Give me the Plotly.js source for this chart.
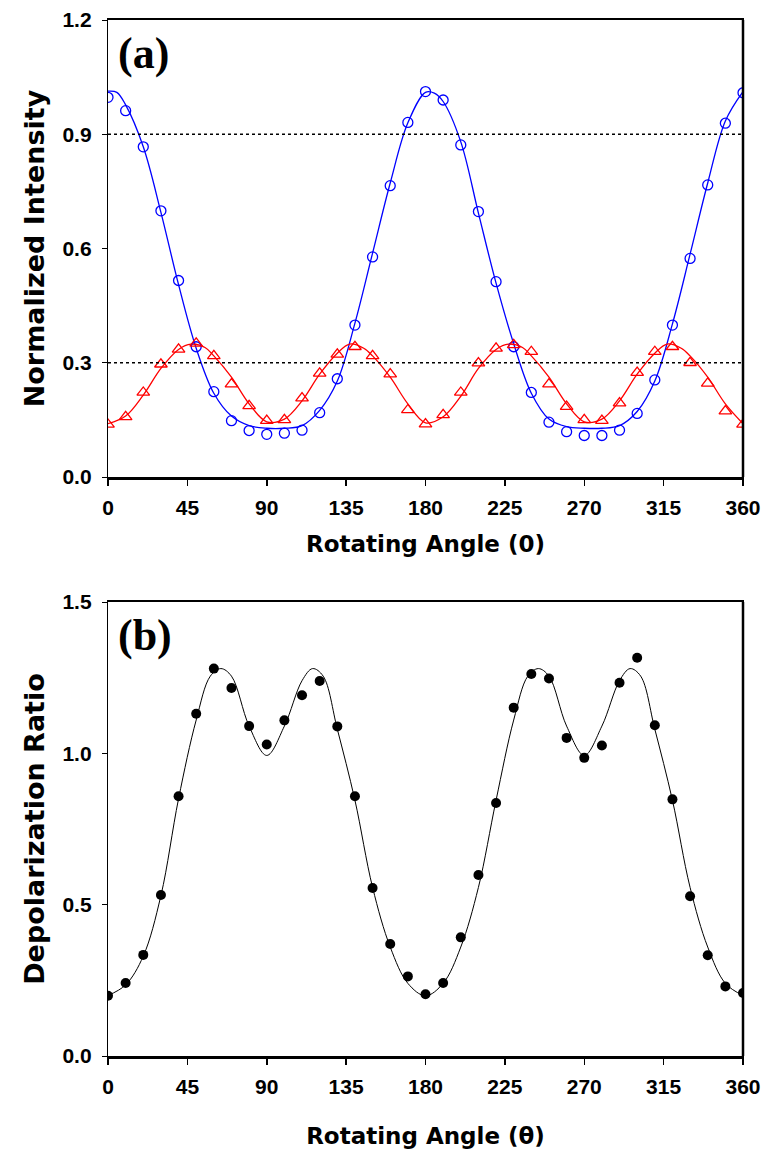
<!DOCTYPE html>
<html>
<head>
<meta charset="utf-8">
<script src="https://cdn.plot.ly/plotly-3.0.1.min.js"></script>
<style>html,body{margin:0;padding:0;background:#fff;}#chart{width:768px;height:1158px;}</style>
</head>
<body>
<div id="chart"></div>
<script>
// ---- Data ----
const angles = [0,10,20,30,40,50,60,70,80,90,100,110,120,130,140,150,160,170,180,190,200,210,220,230,240,250,260,270,280,290,300,310,320,330,340,350,360];

// Panel (a) measured points
const blueData = [0.997,0.962,0.867,0.699,0.516,0.342,0.224,0.148,0.122,0.112,0.115,0.123,0.169,0.258,0.399,0.578,0.765,0.931,1.012,0.990,0.872,0.697,0.513,0.342,0.222,0.144,0.119,0.109,0.109,0.123,0.167,0.255,0.399,0.574,0.767,0.929,1.009];
const redData  = [0.138,0.158,0.222,0.296,0.335,0.351,0.318,0.244,0.187,0.148,0.150,0.207,0.272,0.322,0.342,0.318,0.270,0.176,0.139,0.163,0.222,0.299,0.338,0.347,0.329,0.244,0.185,0.150,0.148,0.194,0.274,0.329,0.342,0.300,0.246,0.173,0.138];

// Panel (a) fitted curves
const fitAngA  = [0,5,10,20,30,40,50,60,70,80,90,100,110,120,130,140,150,160,170,180,185,190,200,210,220,230,240,250,260,270,280,290,300,310,320,330,340,350,360];
const blueFit  = [1.013,1.010,0.977,0.867,0.695,0.505,0.338,0.220,0.160,0.135,0.128,0.128,0.135,0.175,0.252,0.404,0.588,0.772,0.930,1.010,1.008,0.986,0.880,0.693,0.509,0.350,0.220,0.152,0.132,0.128,0.128,0.135,0.172,0.252,0.402,0.585,0.772,0.935,1.012];
const redFitAng = [0,10,20,30,40,47,55,60,70,80,90,100,110,120,130,137,145,150,160,170,180,190,200,210,220,227,235,240,250,260,270,280,290,300,310,317,325,330,340,350,360];
const redFit   = [0.140,0.160,0.215,0.285,0.335,0.349,0.340,0.318,0.262,0.192,0.145,0.152,0.200,0.270,0.325,0.349,0.338,0.318,0.262,0.192,0.142,0.158,0.212,0.285,0.335,0.349,0.340,0.318,0.262,0.192,0.145,0.152,0.200,0.270,0.325,0.349,0.338,0.318,0.262,0.192,0.140];

// Panel (b) measured points
const depolData = [0.199,0.241,0.334,0.532,0.858,1.131,1.280,1.216,1.090,1.029,1.109,1.192,1.239,1.089,0.858,0.555,0.370,0.263,0.204,0.241,0.392,0.598,0.836,1.151,1.262,1.247,1.051,0.985,1.026,1.233,1.316,1.093,0.848,0.528,0.333,0.230,0.208];

// Panel (b) fitted curve
const fitAngB = [0,10,20,30,40,50,58,64,70,80,90,100,110,116,122,130,140,150,160,170,180,190,200,210,220,230,238,244,250,260,270,280,290,296,302,310,320,330,340,350,360];
const depolFit = [0.200,0.235,0.330,0.530,0.850,1.110,1.255,1.280,1.255,1.090,0.993,1.090,1.240,1.280,1.255,1.080,0.845,0.557,0.360,0.240,0.199,0.240,0.360,0.557,0.845,1.110,1.255,1.280,1.255,1.090,0.993,1.090,1.240,1.280,1.255,1.080,0.845,0.557,0.360,0.240,0.200];

// Tick labels / reference lines
const xTicks = [0,45,90,135,180,225,270,315,360];
const yTicksA = [0.0,0.3,0.6,0.9,1.2];
const yTicksB = [0.0,0.5,1.0,1.5];
const refLinesA = [0.3,0.9];

// ---- Traces ----
const traces = [
  {x: fitAngA, y: blueFit, type:'scatter', mode:'lines', line:{color:'#0000ff', width:1.3, shape:'spline', smoothing:1}, xaxis:'x', yaxis:'y', hoverinfo:'skip'},
  {x: redFitAng, y: redFit, type:'scatter', mode:'lines', line:{color:'#ff0000', width:1.3, shape:'spline', smoothing:1}, xaxis:'x', yaxis:'y', hoverinfo:'skip'},
  {x: angles, y: blueData, type:'scatter', mode:'markers', marker:{symbol:'circle-open', size:10, color:'#0000ff', line:{width:1.3}}, xaxis:'x', yaxis:'y'},
  {x: angles, y: redData, type:'scatter', mode:'markers', marker:{symbol:'triangle-up-open', size:11, color:'#ff0000', line:{width:1.3}}, xaxis:'x', yaxis:'y'},
  {x: fitAngB, y: depolFit, type:'scatter', mode:'lines', line:{color:'#000000', width:1, shape:'spline', smoothing:1}, xaxis:'x2', yaxis:'y2', hoverinfo:'skip'},
  {x: angles, y: depolData, type:'scatter', mode:'markers', marker:{symbol:'circle', size:10, color:'#000000'}, xaxis:'x2', yaxis:'y2'}
];

const W = 768, H = 1158;
const xDom = [108/W, 743/W];
const yDomA = [(H-477)/H, (H-20)/H];
const yDomB = [(H-1056)/H, (H-602)/H];

const tickFont = {family:'Liberation Sans, Arial, sans-serif', size:21, color:'#000', weight:'bold'};
const xTitleFont = {family:'DejaVu Sans, sans-serif', size:23, color:'#000', weight:'bold'};
const yTitleFont = {family:'DejaVu Sans, sans-serif', size:27, color:'#000', weight:'bold'};

function xAxis(domain, anchor, titleText, standoff){
  return {domain: domain, anchor: anchor, range:[0,360], tickvals: xTicks, ticktext: xTicks.map(String),
    showgrid:false, zeroline:false, showline:true, linewidth:2.5, linecolor:'#000', mirror:true,
    ticks:'outside', ticklen:6, tickwidth:1.5, tickcolor:'#000', tickfont: tickFont, ticklabelstandoff: 4,
    title:{text: titleText, font: xTitleFont, standoff: standoff}};
}
function yAxis(domain, anchor, range, tv, titleText){
  return {domain: domain, anchor: anchor, range: range, tickvals: tv, ticktext: tv.map(v=>v.toFixed(1)),
    showgrid:false, zeroline:false, showline:true, linewidth:1.2, linecolor:'#000', mirror:true,
    ticks:'outside', ticklen:5, tickwidth:1, tickcolor:'#000', tickfont: tickFont, ticklabelstandoff: 6,
    title:{text: titleText, font: yTitleFont, standoff: 10}};
}

const shapes = refLinesA.map(v => ({type:'line', xref:'x domain', yref:'y', x0:0, x1:1, y0:v, y1:v, line:{color:'#000', width:1.5, dash:'dot'}}));
shapes.push({type:'line', xref:'x domain', yref:'y domain', x0:1, x1:1, y0:0, y1:1, line:{color:'#000', width:2.5}});
shapes.push({type:'line', xref:'x2 domain', yref:'y2 domain', x0:1, x1:1, y0:0, y1:1, line:{color:'#000', width:2.5}});

const layout = {
  width: W, height: H, margin:{l:0, r:0, t:0, b:0}, showlegend:false,
  paper_bgcolor:'#fff', plot_bgcolor:'#fff',
  xaxis: xAxis(xDom, 'y', 'Rotating Angle (0)', 18),
  yaxis: yAxis(yDomA, 'x', [0,1.2], yTicksA, 'Normalized Intensity'),
  xaxis2: xAxis(xDom, 'y2', 'Rotating Angle (θ)', 31),
  yaxis2: yAxis(yDomB, 'x2', [0,1.5], yTicksB, 'Depolarization Ratio'),
  shapes: shapes,
  annotations: [
    {text:'<b>(a)</b>', xref:'x domain', yref:'y domain', x:0.012, y:0.985, xanchor:'left', yanchor:'top', showarrow:false, font:{family:'Liberation Serif, Times New Roman, serif', size:44, color:'#000'}},
    {text:'<b>(b)</b>', xref:'x2 domain', yref:'y2 domain', x:0.012, y:0.985, xanchor:'left', yanchor:'top', showarrow:false, font:{family:'Liberation Serif, Times New Roman, serif', size:44, color:'#000'}}
  ]
};

Plotly.newPlot('chart', traces, layout, {displayModeBar:false, staticPlot:true});
</script>
</body>
</html>
